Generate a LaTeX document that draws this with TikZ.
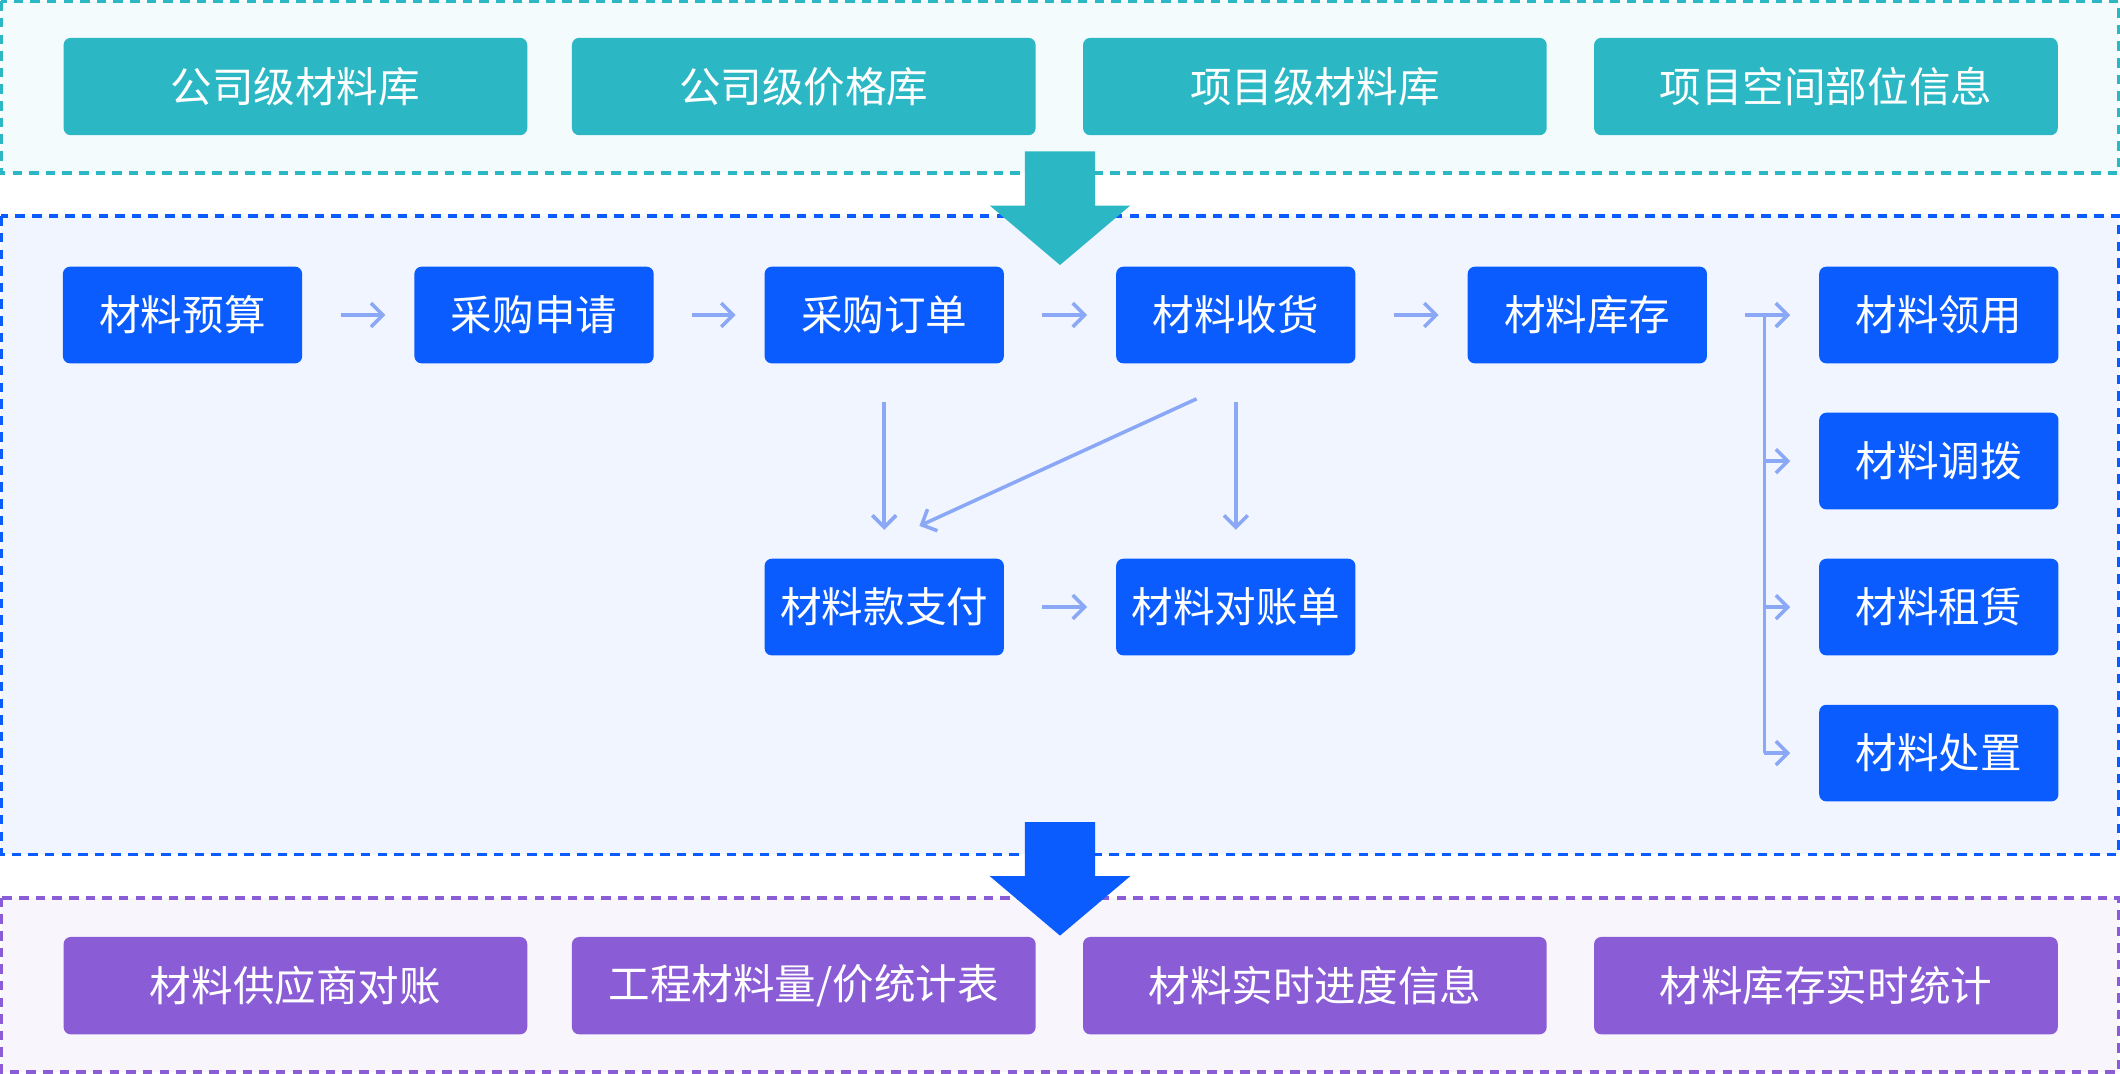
\documentclass[tikz,border=0pt]{standalone}
\usepackage{fontspec}
\setmainfont{Noto Sans CJK SC}
\usetikzlibrary{arrows.meta}
\definecolor{teal1}{HTML}{2BB8C4}
\definecolor{blue1}{HTML}{0A5CFF}
\definecolor{purp1}{HTML}{8A5CD6}
\definecolor{flow}{HTML}{8AA8F5}
\tikzset{
    band/.style = {line width=1.6pt, dash pattern=on 4pt off 3pt},
    wide/.style = {rounded corners=3pt, text=white, minimum width=6.86cm, minimum height=1.44cm, font=\fontsize{17.5}{20}\selectfont},
    stepbox/.style = {fill=blue1, rounded corners=3pt, text=white, minimum width=3.54cm, minimum height=1.43cm, font=\fontsize{17.5}{20}\selectfont},
    link/.style = {flow, line width=1.5pt, -{Straight Barb[length=5pt,width=10pt]}}
}
\begin{document}
\begin{tikzpicture}[x=0.02cm, y=-0.02cm]
    \useasboundingbox (0,0) rectangle (1568,794);
    % bands
    \draw [band, draw=teal1, fill=teal1!5] (1,1) rectangle (1567,128);
    \draw [band, draw=blue1, fill=blue1!6] (1,160) rectangle (1567,632);
    \draw [band, draw=purp1, fill=purp1!6] (1,664) rectangle (1567,793);

    % sources
    \node [wide, fill=teal1] (src1) at (218.5,64) {公司级材料库};
    \node [wide, fill=teal1] (src2) at (594.5,64) {公司级价格库};
    \node [wide, fill=teal1] (src3) at (972.5,64) {项目级材料库};
    \node [wide, fill=teal1] (src4) at (1350.5,64) {项目空间部位信息};

    % outputs
    \node [wide, fill=purp1] (out1) at (218.5,729) {材料供应商对账};
    \node [wide, fill=purp1] (out2) at (594.5,729) {工程材料量/价统计表};
    \node [wide, fill=purp1] (out3) at (972.5,729) {材料实时进度信息};
    \node [wide, fill=purp1] (out4) at (1350.5,729) {材料库存实时统计};

    % big arrows
    \fill [teal1] (758,112) -- (810,112) -- (810,152) -- (836,152) -- (784,196)
        -- (732,152) -- (758,152) -- cycle;
    \fill [blue1] (758,608) -- (810,608) -- (810,648) -- (836,648) -- (784,692)
        -- (732,648) -- (758,648) -- cycle;

    % process
    \node [stepbox] (budget) at (135,233) {材料预算};
    \node [stepbox] (apply) at (395,233) {采购申请};
    \node [stepbox] (order) at (654,233) {采购订单};
    \node [stepbox] (receive) at (914,233) {材料收货};
    \node [stepbox] (stock) at (1174,233) {材料库存};
    \node [stepbox] (pay) at (654,449) {材料款支付};
    \node [stepbox] (bill) at (914,449) {材料对账单};
    \node [stepbox] (use) at (1434,233) {材料领用};
    \node [stepbox] (move) at (1434,341) {材料调拨};
    \node [stepbox] (rent) at (1434,449) {材料租赁};
    \node [stepbox] (dispose) at (1434,557) {材料处置};

    \draw [link] ([xshift=16pt]budget.east) -- ([xshift=-12pt]apply.west);
    \draw [link] ([xshift=16pt]apply.east) -- ([xshift=-12pt]order.west);
    \draw [link] ([xshift=16pt]order.east) -- ([xshift=-12pt]receive.west);
    \draw [link] ([xshift=16pt]receive.east) -- ([xshift=-12pt]stock.west);
    \draw [link] ([xshift=16pt]pay.east) -- ([xshift=-12pt]bill.west);
    \draw [link] ([yshift=-16pt]order.south) -- ([yshift=12pt]pay.north);
    \draw [link] ([yshift=-16pt]receive.south) -- ([yshift=12pt]bill.north);
    \coordinate (diagA) at (885,295);
    \coordinate (diagB) at (680,389);
    \draw [link] (diagA) -- (diagB);

    % branch
    \coordinate (fork) at (1305,233);
    \draw [flow, line width=1.5pt] ([xshift=16pt]stock.east) -- (fork) -- (fork |- dispose);
    \foreach \t in {use, move, rent, dispose}
        \draw [link] (fork |- \t) -- ([xshift=-12pt]\t.west);
\end{tikzpicture}
\end{document}
